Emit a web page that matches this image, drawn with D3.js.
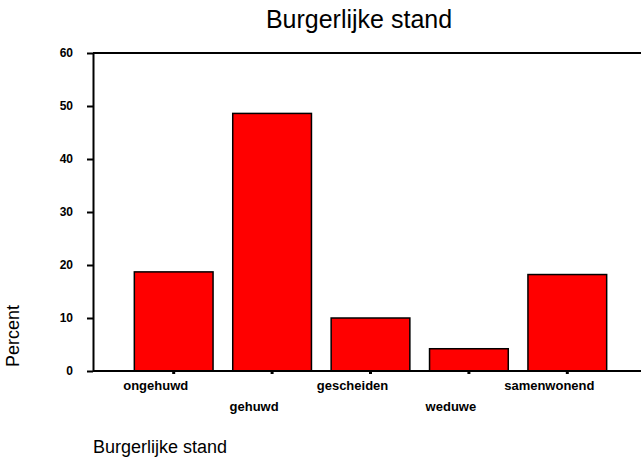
<!DOCTYPE html>
<html>
<head>
<meta charset="utf-8">
<script src="https://cdn.jsdelivr.net/npm/d3@7"></script>
<style>
body { margin: 0; background: #fff; }
text { font-family: "Liberation Sans", Arial, sans-serif; fill: #000; }
</style>
</head>
<body>
<svg width="641" height="459"></svg>
<script>
var categories = ["ongehuwd", "gehuwd", "gescheiden", "weduwe", "samenwonend"];
var percents = [18.7, 48.6, 10.0, 4.2, 18.2];
var yTicks = [0, 10, 20, 30, 40, 50, 60];

var svg = d3.select("svg");
var margin = {"top": 53, "left": 93, "bottom": 371};

var x = d3.scaleBand().domain(categories).range([margin.left, 648]).paddingInner(0.2).paddingOuter(0.42);
var y = d3.scaleLinear().domain([0, 60]).range([margin.bottom, margin.top]);

// title
svg.append("text")
    .attr("x", 359).attr("y", 28)
    .attr("text-anchor", "middle")
    .style("font-size", "25px")
    .text("Burgerlijke stand");

// bars
svg.selectAll(".bar")
    .data(percents)
    .enter().append("rect")
    .attr("class", "bar")
    .attr("x", function (d, i) { return x(categories[i]); })
    .attr("width", x.bandwidth())
    .attr("y", function (d) { return y(d); })
    .attr("height", function (d) { return y(0) - y(d); })
    .style("fill", "#ff0000")
    .style("stroke", "#000")
    .style("stroke-width", 1.5);

// frame lines
svg.append("line").attr("x1", margin.left).attr("x2", 641).attr("y1", y(60)).attr("y2", y(60))
    .style("stroke", "#000").style("stroke-width", 2);
svg.append("line").attr("x1", margin.left).attr("x2", 641).attr("y1", y(0)).attr("y2", y(0))
    .style("stroke", "#000").style("stroke-width", 2);

// y axis
var yAxis = svg.append("g")
    .attr("transform", "translate(" + margin.left + ",0)")
    .call(d3.axisLeft(y).tickValues(yTicks).tickSize(6).tickPadding(14).tickSizeOuter(0));
yAxis.select(".domain").style("stroke-width", 2);
yAxis.selectAll(".tick line").style("stroke-width", 2);
yAxis.selectAll(".tick text")
    .style("font-size", "12px").style("font-weight", "bold")
    .attr("font-family", null);

// x axis
var xAxis = svg.append("g")
    .attr("transform", "translate(0," + y(0) + ")")
    .call(d3.axisBottom(x).tickSize(3).tickSizeOuter(0));
xAxis.select(".domain").remove();
xAxis.selectAll(".tick line").style("stroke-width", 3);
xAxis.selectAll(".tick text")
    .attr("font-family", null)
    .style("font-size", "13px").style("font-weight", "bold")
    .attr("dx", -18)
    .attr("y", function (d, i) { return i % 2 === 0 ? 10 : 31; });

// axis titles
svg.append("text")
    .attr("transform", "translate(19,336) rotate(-90)")
    .attr("text-anchor", "middle")
    .style("font-size", "18px")
    .text("Percent");

svg.append("text")
    .attr("x", 93).attr("y", 453)
    .style("font-size", "18px")
    .text("Burgerlijke stand");
</script>
</body>
</html>
